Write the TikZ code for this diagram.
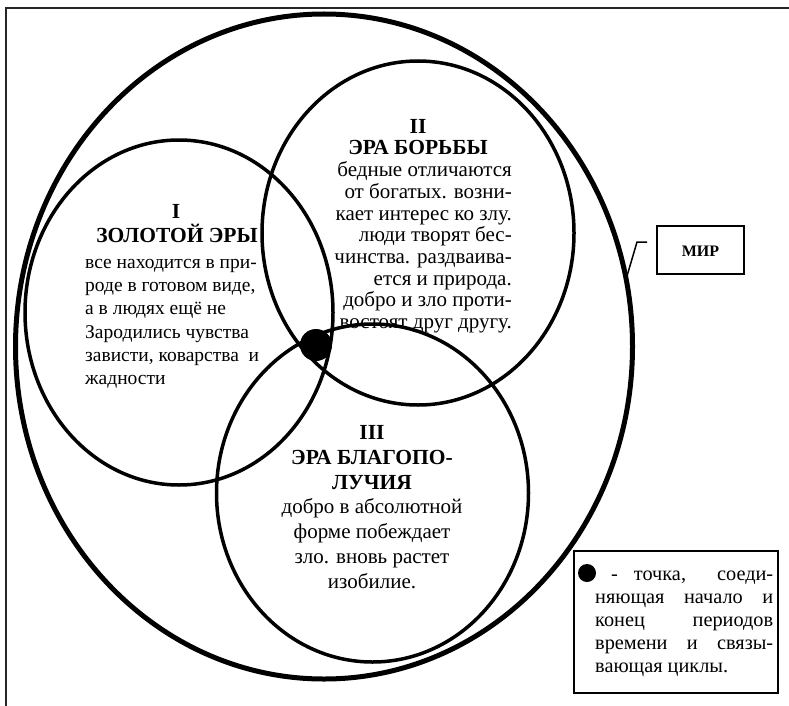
\documentclass[tikz,border=0pt]{standalone}
\usepackage{fontspec}
\setmainfont{Liberation Serif}
\begin{document}
\begin{tikzpicture}[x=1pt,y=-1pt,
  ring/.style={line width=3.5pt},
  outer/.style={line width=5pt},
  frameline/.style={line width=1.6pt, black!85},
  boxst/.style={draw, fill=white, line width=1.8pt, inner sep=0pt},
  bodyA/.style={font=\fontsize{19.5}{23}\selectfont, inner sep=0pt},
  bodyB/.style={font=\fontsize{21}{23}\selectfont, inner sep=0pt},
  bodyL/.style={font=\fontsize{20.3}{23}\selectfont, inner sep=0pt, anchor=base west},
  head/.style={font=\fontsize{21.5}{23}\selectfont\bfseries, inner sep=0pt, anchor=base},
  lw/.style={bodyA, anchor=base west},
  le/.style={bodyB, anchor=base east},
  lc/.style={bodyB, anchor=base}]
\useasboundingbox (0,0) rectangle (789,706);
% frame
\coordinate (f1) at (5,8);
\coordinate (f2) at (789,8);
\coordinate (f3) at (6,8);
\coordinate (f4) at (6,706);
\draw[frameline] (f1) -- (f2);
\draw[frameline] (f3) -- (f4);
% outer world ellipse
\draw[outer] (324,346.5) ellipse [x radius=308.5, y radius=332.5];
% eras
\draw[ring] (179,312.5) ellipse [x radius=154, y radius=172.5];
\draw[ring] (418,233) ellipse [x radius=156, y radius=172];
\draw[ring] (372.5,493) ellipse [x radius=156, y radius=169];
% joining point
\fill (316,345) circle [radius=16];
% era I text
\node[head] (h1a) at (176,218) {I};
\node[head] (h1b) at (177,242) {ЗОЛОТОЙ ЭРЫ};
\node[lw] (t1a) at (85,268) {все находится в при-};
\node[lw] (t1b) at (85,291) {роде в готовом виде,};
\node[lw] (t1c) at (85,314) {а в людях ещё не};
\node[lw] (t1d) at (85,338) {Зародились чувства};
\node[lw] (t1e) at (85,361) {зависти, коварства\ \ и};
\node[lw] (t1f) at (85,384) {жадности};
% era II text
\node[head] (h2a) at (418,133) {II};
\node[head] (h2b) at (418,154) {ЭРА БОРЬБЫ};
\node[le] (t2a) at (512,176) {бедные отличаются};
\node[le] (t2b) at (512,198) {от богатых. возни-};
\node[le] (t2c) at (512,220) {кает интерес ко злу.};
\node[le] (t2d) at (512,241) {люди творят бес-};
\node[le] (t2e) at (512,263) {чинства. раздваива-};
\node[le] (t2f) at (512,285) {ется и природа.};
\node[le] (t2g) at (512,306) {добро и зло проти-};
\node[le] (t2h) at (512,328) {востоят друг другу.};
% era III text
\node[head] (h3a) at (372,439) {III};
\node[head] (h3b) at (372,464) {ЭРА БЛАГОПО-};
\node[head] (h3c) at (372,489) {ЛУЧИЯ};
\node[lc] (t3a) at (372,513) {добро в абсолютной};
\node[lc] (t3b) at (372,538) {форме побеждает};
\node[lc] (t3c) at (372,563) {зло. вновь растет};
\node[lc] (t3d) at (372,588) {изобилие.};
% world box
\node[boxst, minimum width=87pt, minimum height=48pt] (mir) at (700.5,250) {};
\node[font=\fontsize{16}{18}\selectfont\bfseries, inner sep=0pt, anchor=base] (mirt) at (700.5,256) {МИР};
\coordinate (l1) at (647,242);
\coordinate (l2) at (637,242);
\coordinate (l3) at (627,276);
\draw[line width=1.5pt] (l1) -- (l2) -- (l3);
% legend box
\node[boxst, minimum width=204pt, minimum height=142pt] (leg) at (676,622) {};
\fill (587,573) circle [radius=9];
\node[bodyL] (g1) at (611,580) {\makebox[162pt][s]{-\hspace{3pt plus 1fil}точка,\hspace{5pt plus 2fil}соеди-}};
\node[bodyL] (g2) at (595,603) {\makebox[178pt][s]{няющая начало и}};
\node[bodyL] (g3) at (595,626) {\makebox[178pt][s]{конец периодов}};
\node[bodyL] (g4) at (595,649) {\makebox[178pt][s]{времени и связы-}};
\node[bodyL] (g5) at (595,672) {вающая циклы.};
\end{tikzpicture}
\end{document}
